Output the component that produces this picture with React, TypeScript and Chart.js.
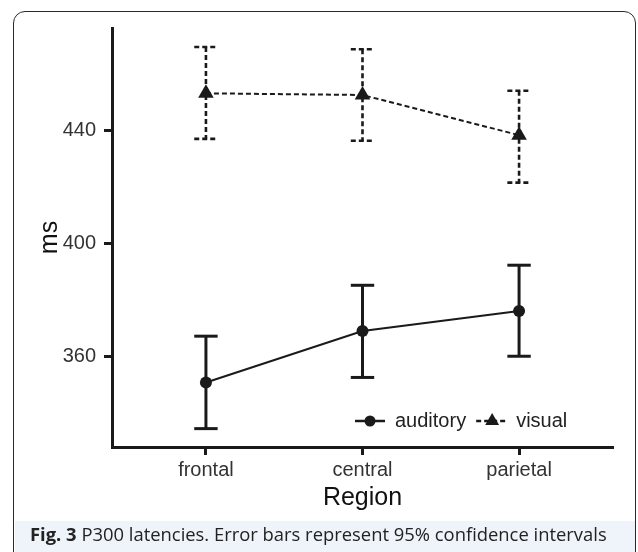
import React, { useEffect, useRef } from "react";
import { Chart, registerables } from "chart.js";

Chart.register(...registerables);

// ---- data ----
const categories = ["frontal", "central", "parietal"];
const seriesNames = ["auditory", "visual"];
const auditoryMean = [350.7, 368.9, 376.0];
const auditoryLower = [334.4, 352.5, 360.0];
const auditoryUpper = [367.1, 385.1, 392.2];
const visualMean = [453.0, 452.4, 438.2];
const visualLower = [436.9, 436.2, 421.4];
const visualUpper = [469.4, 468.6, 453.9];
const yTicks = [360, 400, 440];
const yMin = 327.9;
const yMax = 476.1;
const captionBold = "Fig. 3";
const captionText = " P300 latencies. Error bars represent 95% confidence intervals";

const INK = "#1a1a1a";
const FONT = "'Liberation Sans', Arial, Helvetica, sans-serif";
const DASH = [5, 3];

const errorBarPlugin = {
  id: "errorBars",
  beforeDatasetsDraw(chart: any) {
    const { ctx } = chart;
    const x = chart.scales.x;
    const y = chart.scales.y;
    const drawSet = (lo: number[], hi: number[], dash: number[], width: number) => {
      ctx.save();
      ctx.strokeStyle = INK;
      ctx.lineWidth = width;
      ctx.setLineDash(dash);
      ctx.lineCap = "butt";
      categories.forEach((_, i) => {
        const px = x.getPixelForValue(i);
        const yl = y.getPixelForValue(lo[i]);
        const yh = y.getPixelForValue(hi[i]);
        const hw = 11.7;
        ctx.beginPath();
        ctx.moveTo(px, yh);
        ctx.lineTo(px, yl);
        ctx.stroke();
        ctx.beginPath();
        ctx.moveTo(px - hw, yh);
        ctx.lineTo(px + hw, yh);
        ctx.stroke();
        ctx.beginPath();
        ctx.moveTo(px - hw, yl);
        ctx.lineTo(px + hw, yl);
        ctx.stroke();
      });
      ctx.restore();
    };
    drawSet(auditoryLower, auditoryUpper, [], 3);
    drawSet(visualLower, visualUpper, DASH, 2.6);
  },
};

const legendPlugin = {
  id: "insideLegend",
  afterDraw(chart: any) {
    const { ctx, chartArea } = chart;
    const cy = chartArea.bottom - 26;
    let xPos = chartArea.left + 243;
    ctx.save();
    ctx.font = `20px ${FONT}`;
    ctx.textBaseline = "middle";
    ctx.fillStyle = "#222";
    // auditory symbol
    ctx.strokeStyle = INK;
    ctx.lineWidth = 2.5;
    ctx.beginPath();
    ctx.moveTo(xPos, cy);
    ctx.lineTo(xPos + 30, cy);
    ctx.stroke();
    ctx.fillStyle = INK;
    ctx.beginPath();
    ctx.arc(xPos + 15, cy, 5.5, 0, Math.PI * 2);
    ctx.fill();
    xPos += 40;
    ctx.fillStyle = "#222";
    ctx.fillText(seriesNames[0], xPos, cy);
    xPos += ctx.measureText(seriesNames[0]).width + 10;
    // visual symbol
    ctx.setLineDash(DASH);
    ctx.lineWidth = 2.5;
    ctx.beginPath();
    ctx.moveTo(xPos, cy);
    ctx.lineTo(xPos + 32, cy);
    ctx.stroke();
    ctx.setLineDash([]);
    ctx.fillStyle = INK;
    const tx = xPos + 16;
    const r = 8;
    ctx.beginPath();
    ctx.moveTo(tx, cy - r);
    ctx.lineTo(tx + r * Math.sin((2 * Math.PI) / 3), cy + r / 2);
    ctx.lineTo(tx - r * Math.sin((2 * Math.PI) / 3), cy + r / 2);
    ctx.closePath();
    ctx.fill();
    xPos += 40;
    ctx.fillStyle = "#222";
    ctx.fillText(seriesNames[1], xPos, cy);
    ctx.restore();
  },
};

export default function App() {
  const canvasRef = useRef<HTMLCanvasElement | null>(null);

  useEffect(() => {
    if (!canvasRef.current) return;
    Chart.defaults.font.family = FONT;
    const chart = new Chart(canvasRef.current, {
      type: "line",
      data: {
        datasets: [
          {
            label: seriesNames[0],
            data: auditoryMean.map((v, i) => ({ x: i, y: v })),
            borderColor: INK,
            borderWidth: 2,
            pointStyle: "circle",
            pointRadius: 6,
            pointBackgroundColor: INK,
            pointBorderWidth: 0,
            tension: 0,
          },
          {
            label: seriesNames[1],
            data: visualMean.map((v, i) => ({ x: i, y: v })),
            borderColor: INK,
            borderWidth: 2,
            borderDash: DASH,
            pointStyle: "triangle",
            pointRadius: 9,
            pointBackgroundColor: INK,
            pointBorderWidth: 0,
            tension: 0,
          },
        ],
      },
      options: {
        responsive: false,
        animation: false,
        layout: { padding: { left: 0, right: 25, top: 28, bottom: 35 } },
        plugins: {
          legend: { display: false },
          tooltip: { enabled: false },
        },
        scales: {
          x: {
            type: "linear",
            min: -0.6,
            max: 2.6,
            afterBuildTicks: (s: any) => {
              s.ticks = categories.map((_, i) => ({ value: i }));
            },
            afterFit: (s: any) => {
              s.height = 70;
            },
            ticks: {
              callback: (v: any) => categories[v] ?? "",
              font: { size: 20 },
              color: "#333",
              padding: 3,
              maxRotation: 0,
              autoSkip: false,
            },
            grid: {
              drawOnChartArea: false,
              drawTicks: true,
              tickLength: 8,
              tickWidth: 3,
              tickColor: INK,
            },
            border: { display: true, width: 3, color: INK },
            title: {
              display: true,
              text: "Region",
              font: { size: 25 },
              color: "#111",
              padding: { top: 0, bottom: 4 },
            },
          },
          y: {
            type: "linear",
            min: yMin,
            max: yMax,
            afterBuildTicks: (s: any) => {
              s.ticks = yTicks.map((v) => ({ value: v }));
            },
            afterFit: (s: any) => {
              s.width = 112;
            },
            ticks: {
              callback: (v: any) => String(v),
              font: { size: 20 },
              color: "#333",
              padding: 8,
            },
            grid: {
              drawOnChartArea: false,
              drawTicks: true,
              tickLength: 8,
              tickWidth: 3,
              tickColor: INK,
            },
            border: { display: true, width: 3, color: INK },
            title: {
              display: true,
              text: "ms",
              font: { size: 25 },
              color: "#111",
              padding: { top: 35, bottom: 0 },
            },
          },
        },
      },
      plugins: [errorBarPlugin, legendPlugin],
    } as any);
    return () => chart.destroy();
  }, []);

  return (
    <div
      style={{
        position: "absolute",
        left: 0,
        top: 0,
        width: 638,
        height: 552,
        overflow: "hidden",
        background: "#fff",
      }}
    >
      <canvas
        ref={canvasRef}
        width={638}
        height={552}
        style={{ position: "absolute", left: 0, top: 0, width: 638, height: 552 }}
      />
      <div
        style={{
          position: "absolute",
          left: 14.5,
          top: 521,
          width: 620,
          height: 40,
          background: "#eef4fa",
        }}
      />
      <div
        style={{
          position: "absolute",
          left: 30,
          top: 519,
          whiteSpace: "nowrap",
          fontFamily: "'Open Sans', sans-serif",
          fontSize: 18.4,
          lineHeight: "30px",
          color: "#222",
        }}
      >
        <span style={{ fontWeight: 700 }}>{captionBold}</span>
        <span>{captionText}</span>
      </div>
      <div
        style={{
          position: "absolute",
          left: 13,
          top: 11,
          width: 623,
          height: 580,
          border: "1.5px solid #2a2a2a",
          borderRadius: 12,
          boxSizing: "border-box",
        }}
      />
    </div>
  );
}
